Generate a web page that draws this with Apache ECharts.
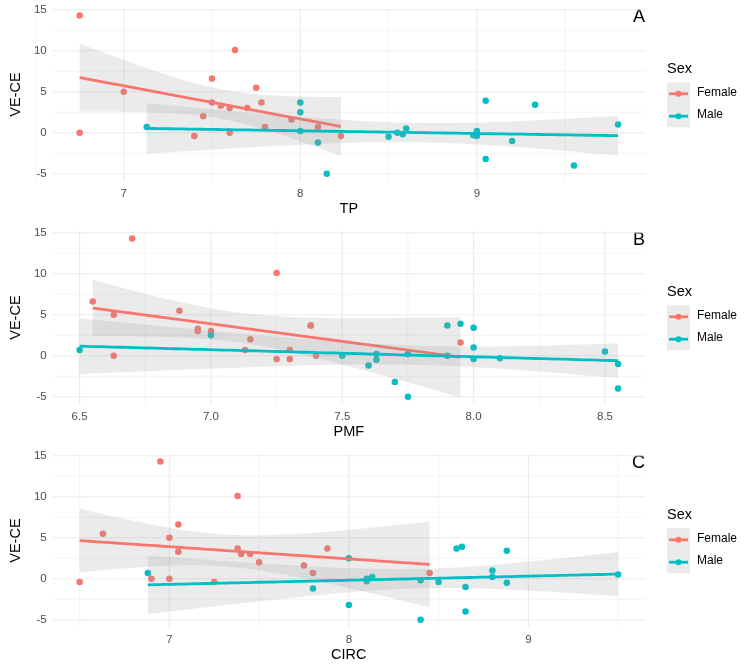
<!DOCTYPE html>
<html><head><meta charset="utf-8">
<script src="https://cdn.jsdelivr.net/npm/echarts@6/dist/echarts.min.js"></script>
<style>html,body{margin:0;padding:0;background:#fff}#c{width:750px;height:669px}</style>
</head><body><div id="c"></div>
<script>
// ---------- data ----------
const sexes = ['Female', 'Male'];
const sexColors = ['#F8766D', '#00BFC4'];
const panelLetters = ['A', 'B', 'C'];
const xNames = ['TP', 'PMF', 'CIRC'];
const yName = 'VE-CE';

// Panel A : TP
const tpFemaleX = [6.75, 6.75, 7.0, 7.4, 7.45, 7.5, 7.5, 7.55, 7.6, 7.6, 7.63, 7.7, 7.75, 7.78, 7.8, 7.95, 8.1, 8.23];
const tpFemaleY = [14.3, 0, 5.0, -0.4, 2.0, 6.6, 3.7, 3.3, 3.0, 0, 10.1, 3.0, 5.5, 3.7, 0.7, 1.6, 0.7, -0.4];
const tpMaleX = [7.13, 8.0, 8.0, 8.0, 8.1, 8.15, 8.5, 8.55, 8.58, 8.6, 9.0, 8.98, 9.0, 9.05, 9.05, 9.2, 9.33, 9.55, 9.8];
const tpMaleY = [0.7, 3.7, 2.5, 0.2, -1.2, -5.0, -0.5, 0, -0.2, 0.5, 0.2, -0.3, -0.4, 3.9, -3.2, -1.0, 3.4, -4.0, 1.0];

// Panel B : PMF
const pmfFemaleX = [6.55, 6.63, 6.63, 6.7, 6.88, 6.95, 6.95, 7.0, 7.13, 7.15, 7.25, 7.25, 7.3, 7.3, 7.38, 7.38, 7.4, 7.95];
const pmfFemaleY = [6.6, 5.0, 0, 14.3, 5.5, 3.3, 3.0, 3.0, 0.7, 2.0, 10.1, -0.4, 0.7, -0.4, 3.7, 3.7, 0, 1.6];
const pmfMaleX = [6.5, 7.0, 7.5, 7.6, 7.63, 7.63, 7.7, 7.75, 7.75, 7.9, 7.9, 7.95, 8.0, 8.0, 8.0, 8.1, 8.5, 8.55, 8.55];
const pmfMaleY = [0.7, 2.5, 0, -1.2, 0.2, -0.5, -3.2, -5.0, 0.2, 3.7, 0, 3.9, 3.4, 1.0, -0.4, -0.3, 0.5, -1.0, -4.0];

// Panel C : CIRC
const circFemaleX = [6.5, 6.63, 6.9, 6.95, 7.0, 7.0, 7.05, 7.05, 7.25, 7.38, 7.38, 7.4, 7.45, 7.5, 7.75, 7.8, 7.88, 8.45];
const circFemaleY = [-0.4, 5.5, 0, 14.3, 5.0, 0, 6.6, 3.3, -0.4, 10.1, 3.7, 3.0, 3.0, 2.0, 1.6, 0.7, 3.7, 0.7];
const circMaleX = [6.88, 7.8, 8.0, 8.0, 8.1, 8.1, 8.13, 8.4, 8.4, 8.5, 8.6, 8.63, 8.65, 8.65, 8.8, 8.8, 8.88, 8.88, 9.5];
const circMaleY = [0.7, -1.2, 2.5, -3.2, 0, -0.3, 0.2, -0.2, -5.0, -0.4, 3.7, 3.9, -1.0, -4.0, 1.0, 0.2, 3.4, -0.5, 0.5];

// ticks
const yTicks = [-5, 0, 5, 10, 15];
const yMinorTicks = [-2.5, 2.5, 7.5, 12.5];
const tpTicks = [7, 8, 9];
const tpMinorTicks = [6.5, 7.5, 8.5, 9.5];
const pmfTicks = [6.5, 7.0, 7.5, 8.0, 8.5];
const pmfMinorTicks = [6.75, 7.25, 7.75, 8.25];
const circTicks = [7, 8, 9];
const circMinorTicks = [6.5, 7.5, 8.5, 9.5];
const tickDecimals = [0, 1, 0];

// t quantiles (0.975) by degrees of freedom
const tCrit = {14: 2.1448, 15: 2.1314, 16: 2.1199, 17: 2.1098, 18: 2.1009, 19: 2.0930};

// ---------- layout ----------
const GRID_LEFT = 43.5, GRID_W = 601.5, GRID_H = 174;
const gridTops = [7.6, 230.6, 453.6];
const FONT = 'Liberation Sans, Arial, Helvetica, sans-serif';

const panels = [
  {fx: tpFemaleX, fy: tpFemaleY, mx: tpMaleX, my: tpMaleY, ticks: tpTicks, minor: tpMinorTicks},
  {fx: pmfFemaleX, fy: pmfFemaleY, mx: pmfMaleX, my: pmfMaleY, ticks: pmfTicks, minor: pmfMinorTicks},
  {fx: circFemaleX, fy: circFemaleY, mx: circMaleX, my: circMaleY, ticks: circTicks, minor: circMinorTicks}
];

function expandRange(arr) {
  const mn = Math.min(...arr), mx = Math.max(...arr);
  const pad = (mx - mn) * 0.05;
  return [mn - pad, mx + pad];
}

function fitLM(xs, ys) {
  const n = xs.length;
  const xbar = xs.reduce((a, b) => a + b, 0) / n;
  const ybar = ys.reduce((a, b) => a + b, 0) / n;
  let sxx = 0, sxy = 0;
  for (let i = 0; i < n; i++) { sxx += (xs[i] - xbar) ** 2; sxy += (xs[i] - xbar) * (ys[i] - ybar); }
  const b = sxy / sxx, a = ybar - b * xbar;
  let sse = 0;
  for (let i = 0; i < n; i++) sse += (ys[i] - a - b * xs[i]) ** 2;
  const s = Math.sqrt(sse / (n - 2));
  const t = tCrit[n - 2];
  const lo = Math.min(...xs), hi = Math.max(...xs);
  const pts = [];
  const N = 80;
  for (let k = 0; k < N; k++) {
    const x = lo + (hi - lo) * k / (N - 1);
    const yhat = a + b * x;
    const se = s * Math.sqrt(1 / n + (x - xbar) ** 2 / sxx);
    pts.push([x, yhat, yhat - t * se, yhat + t * se]);
  }
  return pts;
}

const grids = [], xAxes = [], yAxes = [], series = [], graphics = [];

panels.forEach((p, pi) => {
  const top = gridTops[pi];
  grids.push({left: GRID_LEFT, top: top, width: GRID_W, height: GRID_H});
  const xr = expandRange(p.fx.concat(p.mx));
  const yr = expandRange(p.fy.concat(p.my));
  const dec = tickDecimals[pi];
  xAxes.push({
    gridIndex: pi, type: 'value', min: xr[0], max: xr[1],
    axisLine: {show: false}, axisTick: {show: false}, splitLine: {show: false},
    axisLabel: {customValues: p.ticks, formatter: v => v.toFixed(dec), color: '#4D4D4D', fontSize: 11.5, fontFamily: FONT, margin: 6},
    name: xNames[pi], nameLocation: 'middle', nameGap: 20,
    nameTextStyle: {color: '#000', fontSize: 14.5, fontFamily: FONT}
  });
  yAxes.push({
    gridIndex: pi, type: 'value', min: yr[0], max: yr[1],
    axisLine: {show: false}, axisTick: {show: false}, splitLine: {show: false},
    axisLabel: {customValues: yTicks, formatter: v => String(v), color: '#4D4D4D', fontSize: 11.5, fontFamily: FONT, margin: 6},
    name: yName, nameLocation: 'middle', nameGap: 19,
    nameTextStyle: {color: '#000', fontSize: 14.5, fontFamily: FONT}
  });

  // gridlines
  const gl = [];
  p.ticks.forEach(v => gl.push([v, yr[0], 0, 1]));
  p.minor.forEach(v => gl.push([v, yr[0], 0, 0]));
  yTicks.forEach(v => gl.push([xr[0], v, 1, 1]));
  yMinorTicks.forEach(v => gl.push([xr[0], v, 1, 0]));
  series.push({
    type: 'custom', xAxisIndex: pi, yAxisIndex: pi, silent: true, z: 0,
    data: gl,
    renderItem: (params, api) => {
      const cs = params.coordSys;
      const pt = api.coord([api.value(0), api.value(1)]);
      const major = api.value(3) === 1;
      const style = {stroke: '#EBEBEB', lineWidth: major ? 1.1 : 0.55};
      if (api.value(2) === 0) {
        return {type: 'line', shape: {x1: pt[0], y1: cs.y, x2: pt[0], y2: cs.y + cs.height}, style};
      }
      return {type: 'line', shape: {x1: cs.x, y1: pt[1], x2: cs.x + cs.width, y2: pt[1]}, style};
    }
  });

  const groups = [[p.fx, p.fy], [p.mx, p.my]];
  // points
  groups.forEach((g, si) => {
    series.push({
      type: 'scatter', name: sexes[si], xAxisIndex: pi, yAxisIndex: pi, z: 2,
      symbolSize: 6.5, itemStyle: {color: sexColors[si], opacity: 1},
      data: g[0].map((x, i) => [x, g[1][i]])
    });
  });
  // smooth: ribbon then line, per group
  groups.forEach((g, si) => {
    const fit = fitLM(g[0], g[1]);
    series.push({
      type: 'custom', xAxisIndex: pi, yAxisIndex: pi, silent: true, z: 3 + si * 2,
      data: fit.map(r => [r[0], r[2], r[3]]),
      renderItem: (params, api) => {
        if (params.dataIndex !== 0) return null;
        const upper = fit.map(r => api.coord([r[0], r[3]]));
        const lower = fit.map(r => api.coord([r[0], r[2]])).reverse();
        return {type: 'polygon', shape: {points: upper.concat(lower)}, style: {fill: 'rgba(153,153,153,0.2)'}};
      }
    });
    series.push({
      type: 'line', name: sexes[si], xAxisIndex: pi, yAxisIndex: pi, z: 4 + si * 2,
      showSymbol: false, silent: true,
      lineStyle: {color: sexColors[si], width: 2.8},
      itemStyle: {color: sexColors[si]},
      data: fit.map(r => [r[0], r[1]])
    });
  });

  // panel letter (top-right corner)
  graphics.push({
    type: 'text', right: 750 - (GRID_LEFT + GRID_W), top: top + 0.5,
    style: {text: panelLetters[pi], fill: '#000', font: '18px ' + FONT}
  });
  // legend
  const lx = 667;
  graphics.push({type: 'text', left: lx, top: top + 53.5, style: {text: 'Sex', fill: '#000', font: '14.5px ' + FONT}});
  graphics.push({type: 'rect', shape: {x: lx, y: top + 74.7, width: 23, height: 45}, style: {fill: '#EBEBEB'}});
  sexes.forEach((s, si) => {
    const cy = top + 86.2 + si * 22.4;
    graphics.push({type: 'line', shape: {x1: lx + 2, y1: cy, x2: lx + 21, y2: cy}, style: {stroke: sexColors[si], lineWidth: 2.8}});
    graphics.push({type: 'circle', shape: {cx: lx + 11.5, cy: cy, r: 3}, style: {fill: sexColors[si]}});
    graphics.push({type: 'text', left: lx + 30, top: cy - 7.5, style: {text: s, fill: '#000', font: '12px ' + FONT}});
  });
});

const chart = echarts.init(document.getElementById('c'), null, {renderer: 'canvas'});
chart.setOption({
  animation: false,
  backgroundColor: '#fff',
  grid: grids, xAxis: xAxes, yAxis: yAxes, series: series, graphic: graphics
});
</script></body></html>
